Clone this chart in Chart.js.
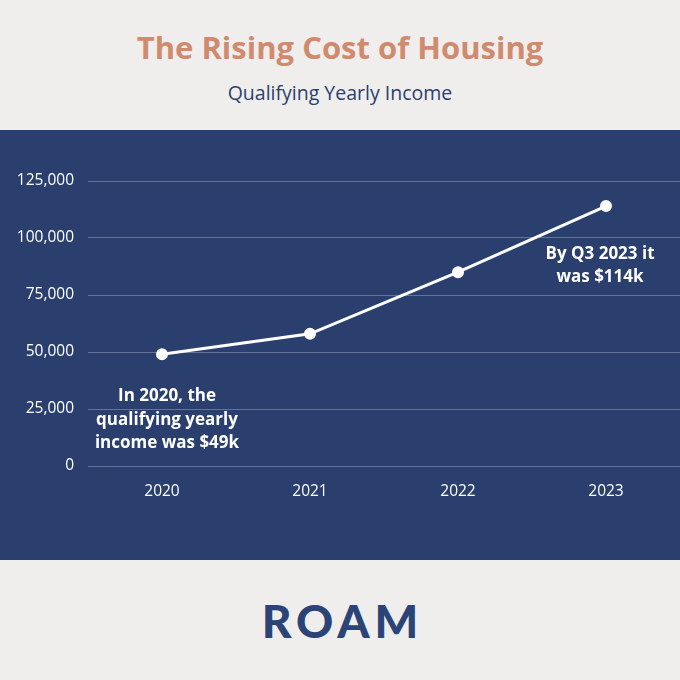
<!DOCTYPE html>
<html>
<head>
<meta charset="utf-8">
<script src="https://cdn.jsdelivr.net/npm/chart.js@4"></script>
<style>
  html, body { margin: 0; padding: 0; }
  body { width: 680px; height: 680px; background: #f0eeec; overflow: hidden; font-family: "Open Sans", sans-serif; }
  .head { height: 130px; position: relative; }
  .title { position: absolute; top: 26px; width: 100%; text-align: center; font-size: 31px; font-weight: 700; color: #d08b6f; }
  .subtitle { position: absolute; top: 79px; width: 100%; text-align: center; font-size: 19.5px; color: #2b3f6f; }
  .band { height: 430px; background: #2a3f6e; position: relative; }
  .foot { height: 120px; position: relative; }
  .logo { position: absolute; top: 33px; width: 100%; text-align: center; font-family: "Lato", sans-serif; font-weight: 900; font-size: 46px; letter-spacing: 5px; text-indent: 5px; color: #2b4478; }
</style>
</head>
<body>
<div class="head">
  <div class="title">The Rising Cost of Housing</div>
  <div class="subtitle">Qualifying Yearly Income</div>
</div>
<div class="band">
  <canvas id="incomeChart" width="680" height="430"></canvas>
</div>
<div class="foot">
  <div class="logo">ROAM</div>
</div>
<script>
const years = ['2020', '2021', '2022', '2023'];
const income = [49000, 58000, 85000, 114000];
const yTicks = [0, 25000, 50000, 75000, 100000, 125000];
const notes = [
    { index: 0, lines: ['In 2020, the', 'qualifying yearly', 'income was $49k'], dx: 5, dy: 42 },
    { index: 3, lines: ['By Q3 2023 it', 'was $114k'], dx: -6, dy: 48 }
];

// draws the two bold callouts under their points
const notesPlugin = {
    id: 'notes',
    afterDatasetsDraw(chart) {
        const ctx = chart.ctx;
        const meta = chart.getDatasetMeta(0);
        ctx.save();
        ctx.fillStyle = '#ffffff';
        ctx.font = 'bold 17px "Open Sans"';
        ctx.textAlign = 'center';
        ctx.textBaseline = 'middle';
        notes.forEach(note => {
            const pt = meta.data[note.index];
            note.lines.forEach((line, i) => {
                ctx.fillText(line, pt.x + note.dx, pt.y + note.dy + i * 23.5);
            });
        });
        ctx.restore();
    }
};

const ctx = document.getElementById('incomeChart').getContext('2d');
new Chart(ctx, {
    type: 'line',
    data: {
        labels: years,
        datasets: [{
            data: income,
            borderColor: '#ffffff',
            borderWidth: 3,
            pointBackgroundColor: '#ffffff',
            pointBorderColor: '#ffffff',
            pointRadius: 4.5,
            tension: 0,
            clip: false
        }]
    },
    options: {
        responsive: false,
        animation: false,
        layout: { autoPadding: false, padding: { top: 51, left: 0, right: 0, bottom: 0 } },
        plugins: {
            legend: { display: false },
            tooltip: { enabled: false }
        },
        scales: {
            x: {
                offset: true,
                grid: { display: false },
                border: { display: false },
                ticks: {
                    color: '#ffffff',
                    font: { family: 'Open Sans', size: 15.5 },
                    padding: 8
                },
                afterFit: scale => {
                    scale.height = 94;
                    scale.paddingLeft = 0;
                    scale.paddingRight = 0;
                }
            },
            y: {
                min: 0,
                max: 125000,
                afterBuildTicks: scale => { scale.ticks = yTicks.map(v => ({ value: v })); },
                grid: {
                    color: 'rgba(255,255,255,0.28)',
                    lineWidth: 1,
                    drawTicks: false
                },
                border: { display: false },
                ticks: {
                    color: '#ffffff',
                    font: { family: 'Open Sans', size: 15.5 },
                    padding: 14,
                    callback: v => v.toLocaleString('en-US')
                },
                afterFit: scale => { scale.width = 88; }
            }
        }
    },
    plugins: [notesPlugin]
});
</script>
</body>
</html>
